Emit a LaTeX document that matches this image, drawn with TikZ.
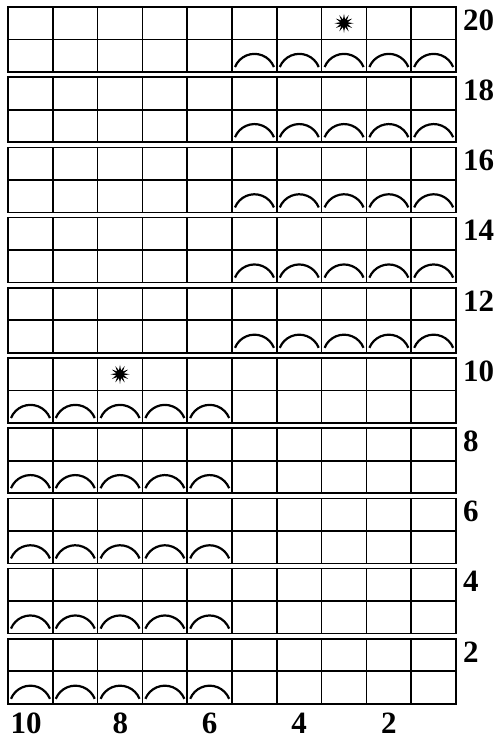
\documentclass[tikz,border=0pt]{standalone}
\usepackage{fontspec}
\setmainfont{Liberation Serif}
\usetikzlibrary{shapes.geometric}

\tikzset{
  gridline/.style={line width=1.7pt},
  loopmark/.style={line width=2.2pt},
  starmark/.style={star, star points=12, star point ratio=2.4, fill=black,
                   draw=none, inner sep=0pt, minimum size=19pt},
  rownum/.style={anchor=west, inner sep=0pt, font=\bfseries\fontsize{31}{31}\selectfont},
  colnum/.style={inner sep=0pt, font=\bfseries\fontsize{31}{31}\selectfont}
}

\begin{document}
\begin{tikzpicture}[x=1pt,y=-1pt]
  \useasboundingbox (0,0) rectangle (502,740);

  % ten bands of two rows each
  \foreach \b in {0,...,9}{
    \pgfmathsetmacro{\ytop}{7+70.2*\b}
    \pgfmathtruncatemacro{\rnum}{20-2*\b}
    \draw[gridline] (8,\ytop) rectangle (456,\ytop+65);
    \draw[gridline] (8,\ytop+32.5) -- (456,\ytop+32.5);
    \foreach \c in {1,...,9}
      \draw[gridline] (8+44.8*\c,\ytop) -- (8+44.8*\c,\ytop+65);
    \node[rownum] (r\rnum) at (463,\ytop+13) {\rnum};
    % loop marks in the lower row
    \ifnum\b<5
      \foreach \c in {5,...,9}
        \draw[loopmark] (8+44.8*\c+3,\ytop+60) arc[start angle=158, end angle=22, radius=21pt];
    \else
      \foreach \c in {0,...,4}
        \draw[loopmark] (8+44.8*\c+3,\ytop+60) arc[start angle=158, end angle=22, radius=21pt];
    \fi
  }

  % stars
  \node[starmark] (st20) at (8+44.8*7+22.4,7+16.25) {};
  \node[starmark] (st10) at (8+44.8*2+22.4,7+70.2*5+16.25) {};

  % stitch numbers
  \node[colnum] (c10) at (26,723) {10};
  \foreach \n/\x in {8/120.4, 6/209.6, 4/299.2, 2/388.8}
    \node[colnum] (c\n) at (\x,723) {\n};
\end{tikzpicture}
\end{document}
